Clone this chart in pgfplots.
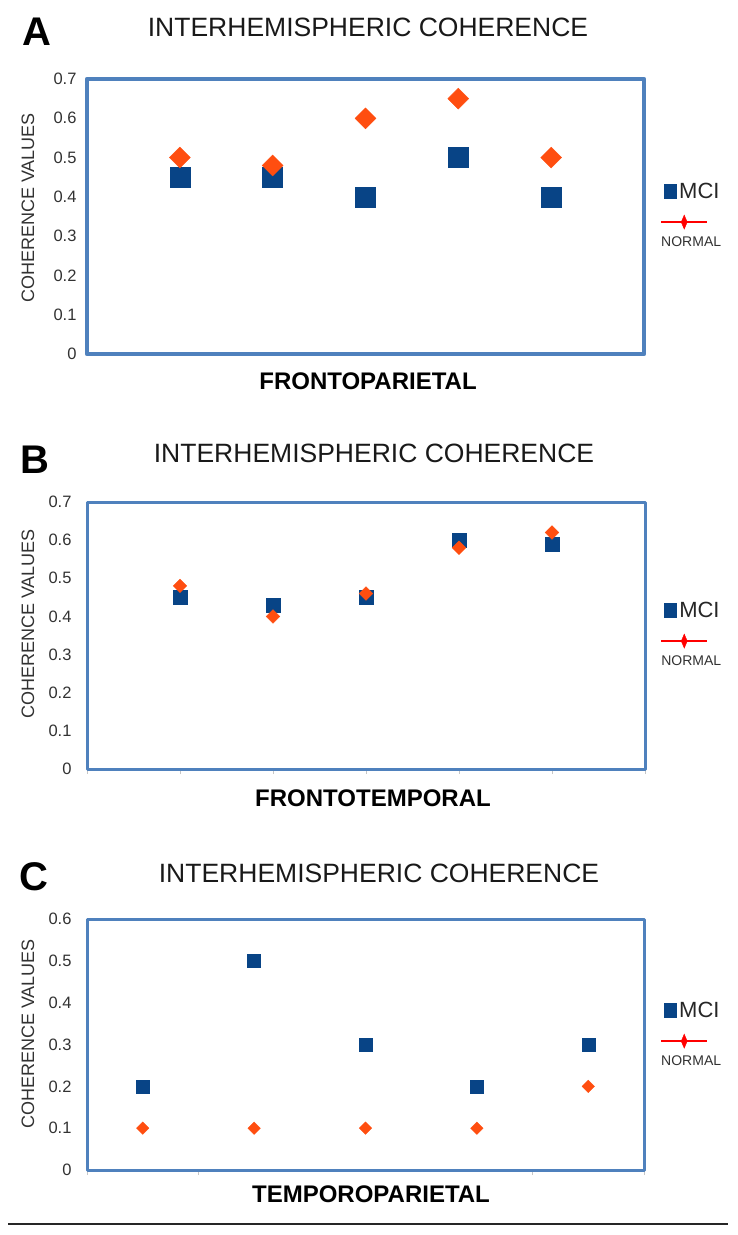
\documentclass[border=0pt]{standalone}
\usepackage{pgfplots}
\pgfplotsset{compat=1.18}
\usepackage{fontspec}
\setmainfont{Liberation Sans}

\definecolor{mcicol}{RGB}{8,68,134}
\definecolor{normcol}{RGB}{255,78,16}
\definecolor{boxcol}{RGB}{79,129,189}
\definecolor{labcol}{RGB}{50,50,50}

\pgfplotsset{
  panel/.style={
    scale only axis,
    anchor=south west,
    axis line style={draw=boxcol, line width=3pt, line join=round},
    ytick style={draw=none},
    yticklabel style={font=\fontsize{16.5}{19}\selectfont, text=labcol, xshift=-7pt},
    /pgf/number format/assume math mode=true,
    /pgf/number format/.cd, fixed, precision=1, /pgfplots/.cd,
    xticklabels={},
    clip=false,
    legend style={draw=none, fill=none, inner sep=0pt, outer sep=0pt,
      row sep=15pt, nodes={inner sep=0pt, outer sep=0pt}},
  },
  mcileg/.style={legend image code/.code={
    \fill[mcicol] (3pt,-7pt) rectangle (15pt,7pt);
    \node[anchor=west, inner sep=0pt, text=black!85, font=\fontsize{22}{25}\selectfont] at (18pt,0pt) {MCI};}},
  normleg/.style={legend image code/.code={
    \draw[red, line width=2.5pt] (0pt,0pt) -- (46pt,0pt);
    \fill[red] (23pt,7pt) -- (26pt,0pt) -- (23pt,-7pt) -- (20pt,0pt) -- cycle;
    \node[anchor=north west, inner sep=0pt, font=\fontsize{14}{16}\selectfont, text=labcol] at (0pt,-15pt) {NORMAL};}},
}

\pgfplotstableread{
x   mci   normal
1   0.45  0.50
2   0.45  0.48
3   0.40  0.60
4   0.50  0.65
5   0.40  0.50
}\dataA

\pgfplotstableread{
x   mci   normal
1   0.45  0.48
2   0.43  0.40
3   0.45  0.46
4   0.60  0.58
5   0.59  0.62
}\dataB

\pgfplotstableread{
x    mci   normal
0.5  0.2   0.1
1.5  0.5   0.1
2.5  0.3   0.1
3.5  0.2   0.1
4.5  0.3   0.2
}\dataC

\begin{document}
\begin{tikzpicture}
\useasboundingbox (0pt,0pt) rectangle (738pt,-1235pt);

% ---- A ----
\begin{axis}[panel,
    at={(87pt,-354pt)}, width=557pt, height=275pt,
    axis line style={line width=4.5pt},
    xmin=0, xmax=6, ymin=0, ymax=0.7,
    xtick=\empty,
    ytick={0,0.1,0.2,0.3,0.4,0.5,0.6,0.7},
    legend style={at={(axis description cs:1.0287,0.6218)}, anchor=north west},
  ]
  \addplot[only marks, mark=square*, mark size=10pt, color=mcicol, mcileg] table[x=x, y=mci] {\dataA};
  \addlegendentry{}
  \addplot[only marks, mark=square*, mark size=7.4pt, mark options={rotate=45}, color=normcol, normleg] table[x=x, y=normal] {\dataA};
  \addlegendentry{}
\end{axis}

% ---- B ----
\begin{axis}[panel,
    at={(87pt,-769pt)}, width=558pt, height=267pt,
    xmin=0, xmax=6, ymin=0, ymax=0.7,
    xtick={0,1,2,3,4,5,6}, xtick pos=bottom, tick align=outside,
    major tick length=5pt, xtick style={draw=gray!45, line width=1pt},
    ytick={0,0.1,0.2,0.3,0.4,0.5,0.6,0.7},
    legend style={at={(axis description cs:1.0269,0.6255)}, anchor=north west},
  ]
  \addplot[only marks, mark=square*, mark size=7pt, color=mcicol, mcileg] table[x=x, y=mci] {\dataB};
  \addlegendentry{}
  \addplot[only marks, mark=square*, mark size=4.8pt, mark options={rotate=45}, color=normcol, normleg] table[x=x, y=normal] {\dataB};
  \addlegendentry{}
\end{axis}

% ---- C ----
\begin{axis}[panel,
    at={(87pt,-1170pt)}, width=557pt, height=251pt,
    xmin=0, xmax=5, ymin=0, ymax=0.6,
    xtick={0,1,4,5}, xtick pos=bottom, tick align=outside,
    major tick length=5pt, xtick style={draw=gray!45, line width=1pt},
    ytick={0,0.1,0.2,0.3,0.4,0.5,0.6},
    legend style={at={(axis description cs:1.0287,0.669)}, anchor=north west},
  ]
  \addplot[only marks, mark=square*, mark size=6.5pt, color=mcicol, mcileg] table[x=x, y=mci] {\dataC};
  \addlegendentry{}
  \addplot[only marks, mark=square*, mark size=4.4pt, mark options={rotate=45}, color=normcol, normleg] table[x=x, y=normal] {\dataC};
  \addlegendentry{}
\end{axis}

% ---- titles, letters, axis labels ----
\foreach \ty/\lx/\ly/\lt/\tx in {27/37/32/A/368, 453/35/460/B/374, 873/34/877/C/379}{
  \node[font=\fontsize{26.5}{30}\selectfont, text=black!90] at (\tx pt,-\ty pt) {INTERHEMISPHERIC COHERENCE};
  \node[font=\bfseries\fontsize{40}{44}\selectfont] at (\lx pt,-\ly pt) {\lt};
}
\foreach \cy in {208, 624, 1034}{
  \node[rotate=90, font=\fontsize{18}{21}\selectfont, text=labcol] at (28pt,-\cy pt) {COHERENCE VALUES};
}
\node[font=\bfseries\fontsize{24}{28}\selectfont] at (368pt,-381pt) {FRONTOPARIETAL};
\node[font=\bfseries\fontsize{24}{28}\selectfont] at (373pt,-798pt) {FRONTOTEMPORAL};
\node[font=\bfseries\fontsize{24}{28}\selectfont] at (371pt,-1194pt) {TEMPOROPARIETAL};

\draw[line width=1.5pt, black!85] (8pt,-1224pt) -- (728pt,-1224pt);
\end{tikzpicture}
\end{document}
